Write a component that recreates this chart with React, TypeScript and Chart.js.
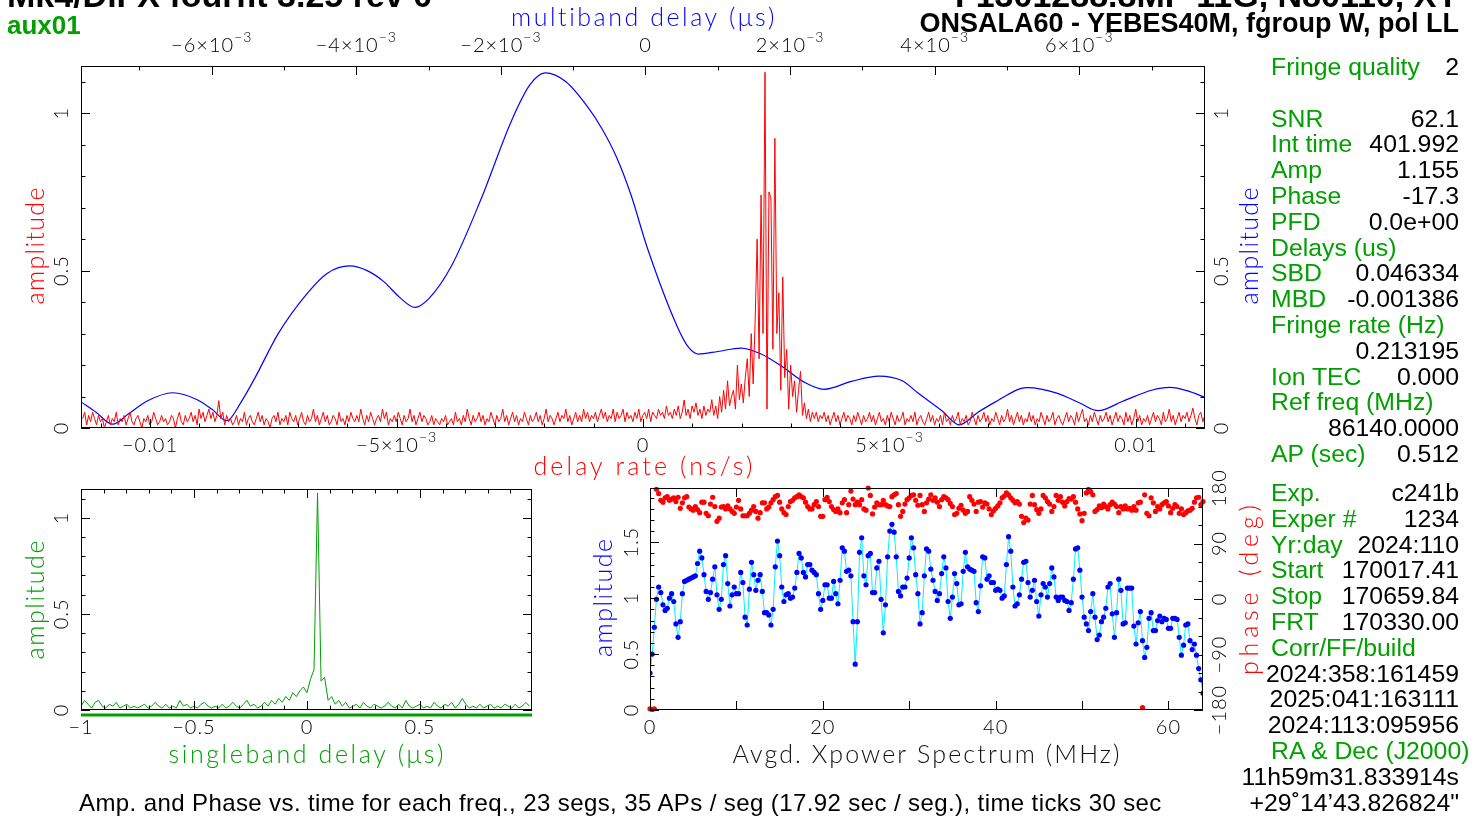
import React, { useEffect, useRef } from "react";
import { Chart, registerables } from "chart.js";
Chart.register(...registerables);

// ------------------------------------------------------------------ data
// delay-rate spectrum (red, main panel); x grid = RATE_START + i*RATE_STEP (ns/s)
const RATE_START = -0.011365;
const RATE_STEP = 0.00004;
const RATE_AMP = [
  0.03,0.05,0.01,0.04,0.02,0.05,0.03,0.01,0.04,0.02,0.03,0.00,0.02,0.04,0.01,0.03,0.02,0.05,0.01,0.03,
  0.02,0.04,0.01,0.03,0.05,0.02,0.01,0.03,0.04,0.02,0.00,0.03,0.02,0.04,0.01,0.02,0.05,0.03,0.01,0.02,
  0.04,0.02,0.03,0.01,0.02,0.04,0.03,0.00,0.03,0.05,0.02,0.01,0.04,0.02,0.03,0.05,0.02,0.04,0.01,0.06,
  0.03,0.05,0.02,0.04,0.06,0.03,0.05,0.02,0.04,0.087,0.03,0.05,0.01,0.04,0.02,0.03,0.01,0.02,0.04,0.01,
  0.03,0.02,0.05,0.01,0.03,0.04,0.02,0.01,0.03,0.05,0.02,0.04,0.01,0.03,0.02,0.00,0.03,0.04,0.02,0.05,
  0.01,0.03,0.02,0.04,0.01,0.05,0.03,0.02,0.04,0.01,0.03,0.05,0.02,0.01,0.04,0.02,0.03,0.06,0.02,0.04,
  0.01,0.03,0.05,0.02,0.04,0.01,0.02,0.04,0.03,0.01,0.05,0.02,0.03,0.01,0.04,0.02,0.05,0.03,0.02,0.04,
  0.02,0.06,0.03,0.01,0.04,0.02,0.05,0.03,0.01,0.03,0.04,0.02,0.06,0.03,0.05,0.01,0.03,0.02,0.04,0.02,
  0.05,0.03,0.01,0.04,0.02,0.03,0.06,0.02,0.04,0.01,0.03,0.05,0.02,0.04,0.03,0.01,0.02,0.04,0.01,0.03,
  0.02,0.01,0.03,0.02,0.04,0.01,0.02,0.03,0.01,0.05,0.02,0.03,0.01,0.04,0.02,0.06,0.03,0.01,0.04,0.02,
  0.03,0.05,0.02,0.04,0.01,0.03,0.02,0.05,0.03,0.01,0.04,0.02,0.03,0.06,0.02,0.04,0.01,0.03,0.05,0.02,
  0.04,0.01,0.03,0.02,0.05,0.03,0.01,0.04,0.02,0.03,0.05,0.02,0.04,0.01,0.03,0.06,0.02,0.04,0.03,0.01,
  0.03,0.05,0.02,0.04,0.03,0.06,0.02,0.04,0.01,0.03,0.05,0.02,0.04,0.02,0.06,0.03,0.05,0.02,0.04,0.03,
  0.05,0.02,0.04,0.06,0.03,0.05,0.02,0.04,0.03,0.06,0.02,0.05,0.03,0.04,0.06,0.02,0.05,0.03,0.04,0.02,
  0.05,0.03,0.06,0.02,0.04,0.05,0.03,0.06,0.02,0.05,0.04,0.03,0.06,0.04,0.05,0.03,0.07,0.04,0.05,0.03,
  0.06,0.04,0.07,0.03,0.05,0.089,0.04,0.06,0.03,0.07,0.05,0.08,0.04,0.06,0.03,0.07,0.04,0.06,
  0.05,0.09,0.04,0.07,0.03,0.10,0.05,0.12,0.06,0.15,
  0.07,0.10,0.12,0.06,0.20,0.09,0.14,0.08,0.16,0.22,
  0.10,0.30,0.14,0.34,0.60,0.22,0.74,0.30,1.13,0.06,
  0.75,0.73,0.25,0.92,0.30,0.43,0.12,0.48,0.16,0.25,
  0.06,0.20,0.10,0.15,0.05,0.12,0.18,0.04,0.08,0.03,
  0.06,0.02,0.05,
  0.03,0.05,0.02,0.04,0.03,0.05,0.02,0.04,0.01,
  0.03,0.05,0.02,0.04,0.01,0.03,0.05,0.02,0.04,0.03,0.01,0.04,0.02,0.05,0.03,0.01,0.04,0.02,0.03,0.05,
  0.02,0.04,0.01,0.03,0.05,0.02,0.03,0.01,0.04,0.02,0.05,0.03,0.01,0.04,0.02,0.03,0.05,0.01,0.03,0.02,
  0.04,0.02,0.05,0.01,0.03,0.04,0.02,0.01,0.03,0.05,0.02,0.04,0.01,0.03,0.02,0.04,0.01,0.05,0.02,0.03,
  0.01,0.04,0.02,0.03,0.05,0.01,0.03,0.02,0.04,0.01,0.02,0.05,0.03,0.01,0.04,0.02,0.03,0.05,0.02,0.04,
  0.01,0.03,0.02,0.05,0.03,0.01,0.04,0.02,0.03,0.06,0.02,0.04,0.01,0.03,0.05,0.02,0.04,0.01,0.03,0.02,
  0.05,0.02,0.04,0.01,0.03,0.02,0.05,0.03,0.01,0.04,0.02,0.03,0.05,0.01,0.03,0.04,0.02,0.01,0.03,0.05,
  0.02,0.04,0.03,0.01,0.05,0.02,0.04,0.06,0.02,0.03,0.01,0.04,0.02,0.05,0.03,0.01,0.04,0.02,0.03,0.05,
  0.02,0.04,0.01,0.03,0.05,0.02,0.04,0.03,0.01,0.05,0.02,0.04,0.01,0.03,0.06,0.02,0.04,0.01,0.03,0.02,
  0.04,0.01,0.03,0.05,0.02,0.04,0.03,0.01,0.05,0.02,0.03,0.06,0.02,0.04,0.01,0.03,0.05,0.02,0.04,0.03,
  0.05,0.02,0.04,0.063,0.03,0.01,0.04,0.05,0.02,0.04,
];

// multiband delay function (blue, main panel, top axis in µs)
const MBD_DELAY = [
  -0.007808,-0.0076,-0.00737,-0.00715,-0.0069,-0.00654,-0.0062,-0.006,-0.00579,-0.0056,
  -0.0054,-0.00508,-0.00467,-0.0044,-0.00409,-0.00385,-0.00362,-0.0034,-0.00319,-0.003,
  -0.00269,-0.00228,-0.00185,-0.0016,-0.001386,-0.0011,-0.0008,-0.0006,-0.0004,-0.0002,
  0.00002,0.00044,0.0006,0.00073,0.001,0.00132,0.0016,0.00189,0.0022,0.00247,
  0.00285,0.00323,0.00355,0.00377,0.0041,0.00434,0.0046,0.00481,0.00528,0.0057,
  0.006,0.00626,0.0066,0.007,0.00725,0.0075,0.007739,
];
const MBD_AMP = [
  0.083,0.05,0.012,0.045,0.085,0.112,0.09,0.06,0.023,0.08,
  0.16,0.3,0.43,0.492,0.515,0.5,0.465,0.415,0.383,0.41,
  0.512,0.724,0.978,1.09,1.128,1.10,1.02,0.95,0.86,0.74,
  0.576,0.322,0.255,0.235,0.243,0.254,0.235,0.195,0.145,0.123,
  0.148,0.165,0.15,0.111,0.055,0.01,0.05,0.079,0.128,0.11,
  0.08,0.055,0.085,0.12,0.129,0.118,0.097,
];

// singleband delay function (green); x grid = SBD_START + i*SBD_STEP (µs)
const SBD_START = -1;
const SBD_STEP = 0.015625;
const SBD_AMP = [
  0.02,0.05,0.03,0.01,0.04,0.05,0.02,0.01,0.03,0.02,0.04,0.01,0.02,0.03,0.01,0.02,
  0.01,0.02,0.03,0.01,0.02,0.04,0.02,0.01,0.03,0.01,0.02,0.01,0.05,0.02,0.03,0.01,
  0.02,0.01,0.03,0.04,0.02,0.01,0.02,0.01,0.03,0.01,0.02,0.04,0.02,0.01,0.03,0.05,
  0.02,0.03,0.01,0.02,0.04,0.02,0.05,0.03,0.06,0.04,0.07,0.05,0.09,0.07,0.10,0.12,
  0.09,0.16,0.21,1.13,0.15,0.17,0.05,0.07,
  0.03,0.05,0.02,0.04,0.01,0.02,0.03,0.01,0.04,0.02,0.01,0.03,0.02,0.01,0.02,0.04,
  0.02,0.01,0.03,0.01,0.05,0.02,0.01,0.02,0.03,0.01,0.02,0.01,0.04,0.02,0.01,0.03,
  0.02,0.04,0.01,0.03,0.06,0.03,0.01,0.02,0.01,0.03,0.01,0.02,0.03,0.01,0.02,0.01,
  0.03,0.02,0.01,0.03,0.01,0.02,0.04,0.02,
];
const SBD_WINDOW = [-1, 0.996];

// averaged cross-power spectrum; x grid = i*FREQ_STEP (MHz)
const FREQ_STEP = 0.25;
const XP_AMP = [
  0.33,0.50,0.74,0.99,1.10,1.05,0.94,0.89,0.91,1.00,
  1.04,0.97,0.77,0.65,0.79,1.04,1.15,1.16,1.17,1.18,
  1.19,1.20,1.31,1.42,1.36,1.21,1.06,0.99,1.05,1.17,
  1.28,1.03,0.90,0.99,1.30,1.38,1.13,0.93,1.03,1.10,
  1.04,1.04,1.23,1.14,0.83,0.76,1.08,1.32,1.21,1.07,
  1.16,1.21,1.06,0.87,0.87,0.85,0.76,0.90,1.28,1.51,
  1.38,1.10,0.97,1.03,1.04,1.00,1.01,1.09,1.23,1.40,
  1.36,1.23,1.19,1.30,1.30,1.25,1.23,1.21,1.04,0.90,
  0.98,1.12,1.12,1.00,1.00,1.15,1.04,0.95,1.16,1.45,
  1.42,1.24,1.25,1.20,0.79,0.41,0.79,1.41,1.54,1.20,
  1.12,1.38,1.40,1.05,1.05,1.27,1.33,0.99,0.69,0.94,
  1.37,1.60,1.66,1.59,1.37,1.06,1.02,1.10,1.10,1.18,
  1.36,1.54,1.45,1.21,1.04,0.77,0.87,1.20,1.44,1.42,
  1.26,1.16,1.06,0.98,1.04,1.22,1.37,1.27,0.97,0.82,
  1.01,1.22,1.13,0.94,0.95,1.24,1.41,1.28,1.26,1.25,
  1.24,0.96,0.88,1.11,1.37,1.36,1.17,1.20,1.14,1.14,
  1.07,1.08,1.07,1.00,1.02,1.30,1.55,1.42,1.10,0.93,
  0.95,1.03,1.17,1.32,1.33,1.14,1.01,1.07,1.16,0.97,
  0.84,1.03,1.13,1.10,1.01,1.13,1.27,1.19,1.01,0.98,
  1.01,1.01,0.98,0.97,0.89,0.96,1.17,1.44,1.45,1.25,
  1.01,0.83,0.77,0.71,0.88,1.04,0.83,0.63,0.67,0.79,
  0.83,0.91,1.10,1.13,0.86,0.65,0.87,1.17,1.07,0.77,
  0.78,1.09,1.09,1.09,0.75,0.59,0.78,0.88,0.62,0.47,
  0.56,0.82,0.87,0.71,0.71,0.80,0.84,0.79,0.82,0.81,
  0.73,0.73,0.82,0.82,0.81,0.65,0.49,0.58,0.76,0.77,
  0.62,0.54,0.59,0.49,0.37,0.27,0.15,
];
const XP_PHASE = [
  -178,-179,-178,178,171,160,157,164,166,160,
  162,164,158,165,147,156,164,166,149,146,
  144,150,145,140,157,157,139,135,154,165,
  150,126,131,149,150,146,151,146,142,139,
  149,160,146,135,135,135,139,144,150,142,
  131,140,156,156,146,149,156,161,166,168,
  157,146,140,137,150,158,160,164,166,169,
  166,164,157,150,146,146,153,158,150,134,
  134,161,165,158,150,145,142,146,140,156,
  161,140,153,175,162,153,157,153,161,146,
  144,180,168,138,149,156,153,153,160,153,
  151,150,166,169,171,153,134,142,154,161,
  164,168,169,160,152,168,153,142,156,162,
  169,160,164,157,150,161,166,164,161,155,
  150,137,139,147,152,144,139,142,166,160,
  154,142,157,158,149,156,154,146,137,143,
  147,151,156,164,167,172,169,164,160,156,
  158,154,134,124,131,128,154,168,153,145,
  139,146,168,164,158,154,142,150,168,160,
  166,157,151,158,163,162,166,157,146,138,
  127,139,172,178,174,169,142,145,151,148,
  154,150,146,153,157,154,150,140,150,146,
  151,146,147,144,150,144,156,157,-176,169,
  139,135,164,156,142,150,146,153,156,158,
  151,140,147,153,150,139,146,137,140,143,
  144,147,157,164,165,153,158,
];

// tick labels: value, text, optional exponent
const RATE_TICKS = [
  { v: -0.01, t: "\u22120.01" }, { v: -0.005, t: "\u22125\u00d710", e: "\u22123" },
  { v: 0, t: "0" }, { v: 0.005, t: "5\u00d710", e: "\u22123" }, { v: 0.01, t: "0.01" },
];
const MBD_TICKS = [
  { v: -0.006, t: "\u22126\u00d710", e: "\u22123" }, { v: -0.004, t: "\u22124\u00d710", e: "\u22123" },
  { v: -0.002, t: "\u22122\u00d710", e: "\u22123" }, { v: 0, t: "0" },
  { v: 0.002, t: "2\u00d710", e: "\u22123" }, { v: 0.004, t: "4\u00d710", e: "\u22123" },
  { v: 0.006, t: "6\u00d710", e: "\u22123" },
];
const AMP_TICKS = [{ v: 0, t: "0" }, { v: 0.5, t: "0.5" }, { v: 1, t: "1" }];
const SBD_TICKS = [{ v: -1, t: "\u22121" }, { v: -0.5, t: "\u22120.5" }, { v: 0, t: "0" }, { v: 0.5, t: "0.5" }];
const FREQ_TICKS = [{ v: 0, t: "0" }, { v: 20, t: "20" }, { v: 40, t: "40" }, { v: 60, t: "60" }];
const XP_AMP_TICKS = [{ v: 0, t: "0" }, { v: 0.5, t: "0.5" }, { v: 1, t: "1" }, { v: 1.5, t: "1.5" }];
const PHASE_TICKS = [
  { v: -180, t: "\u2212180" }, { v: -90, t: "\u221290" }, { v: 0, t: "0" }, { v: 90, t: "90" }, { v: 180, t: "180" },
];

// text panel
const TITLE_LEFT = "Mk4/DiFX fourfit 3.25 rev 0";
const TITLE_RIGHT = "F1301288.8MP 11G, N80110, XY";
const SUBTITLE_LEFT = "aux01";
const SUBTITLE_RIGHT = "ONSALA60 - YEBES40M, fgroup W, pol LL";
const FOOTER = "Amp. and Phase vs. time for each freq., 23 segs, 35 APs / seg (17.92 sec / seg.), time ticks 30 sec";
const STATS_TOP: [string, string][] = [
  ["Fringe quality", "2"], ["", ""], ["SNR", "62.1"], ["Int time", "401.992"], ["Amp", "1.155"],
  ["Phase", "-17.3"], ["PFD", "0.0e+00"], ["Delays (us)", ""], ["SBD", "0.046334"], ["MBD", "-0.001386"],
  ["Fringe rate (Hz)", ""], ["", "0.213195"], ["Ion TEC", "0.000"], ["Ref freq (MHz)", ""],
  ["", "86140.0000"], ["AP (sec)", "0.512"],
];
const STATS_BOTTOM: [string, string][] = [
  ["Exp.", "c241b"], ["Exper #", "1234"], ["Yr:day", "2024:110"], ["Start", "170017.41"],
  ["Stop", "170659.84"], ["FRT", "170330.00"], ["Corr/FF/build", ""], ["", "2024:358:161459"],
  ["", "2025:041:163111"], ["", "2024:113:095956"], ["RA & Dec (J2000)", ""], ["", "11h59m31.833914s"],
  ["", "+29\u02da14\u201943.826824\""],
];

// ------------------------------------------------------------------ drawing helpers
const W = 1479;
const H = 816;
const RED = "#ff0000";
const BLUE = "#0000ff";
const GREEN = "#00a000";
const PG_FAMILY = 'Lato, "DejaVu Sans", sans-serif';
const TICK_FONT = `300 20px ${PG_FAMILY}`;
const SUP_FONT = `300 14px ${PG_FAMILY}`;
const TITLE_FONT = `300 25px ${PG_FAMILY}`;

type Lab = { v: number; t: string; e?: string };
type AxisSpec = { scale: string; side: string; major: number; minor: number; labels?: Lab[]; pos?: number };
type TitleSpec = { text: string; x: number; y: number; width: number; color: string; rotate?: boolean };

function drawTickLabel(ctx: any, lab: Lab, cx: number, cy: number, rotate: boolean) {
  ctx.save();
  ctx.translate(cx, cy);
  if (rotate) ctx.rotate(-Math.PI / 2);
  ctx.letterSpacing = "1px";
  ctx.font = TICK_FONT;
  const w1 = ctx.measureText(lab.t).width;
  let w2 = 0;
  if (lab.e) {
    ctx.font = SUP_FONT;
    w2 = ctx.measureText(lab.e).width;
  }
  const x0 = -(w1 + w2) / 2;
  ctx.textAlign = "left";
  ctx.textBaseline = "middle";
  ctx.fillStyle = "#000";
  ctx.font = TICK_FONT;
  ctx.fillText(lab.t, x0, 0);
  if (lab.e) {
    ctx.font = SUP_FONT;
    ctx.fillText(lab.e, x0 + w1, -9);
  }
  ctx.restore();
}

function drawTitle(ctx: any, t: TitleSpec) {
  ctx.save();
  ctx.font = TITLE_FONT;
  ctx.letterSpacing = "0px";
  const w = ctx.measureText(t.text).width;
  const ls = (t.width - w) / Math.max(1, t.text.length - 1);
  ctx.letterSpacing = `${ls}px`;
  ctx.translate(t.x, t.y);
  if (t.rotate) ctx.rotate(-Math.PI / 2);
  ctx.textAlign = "left";
  ctx.textBaseline = "middle";
  ctx.fillStyle = t.color;
  ctx.fillText(t.text, -t.width / 2, 0);
  ctx.restore();
}

function makePg(axes: AxisSpec[], titles: TitleSpec[], extra?: (chart: any) => void) {
  return {
    id: "pg",
    afterDatasetsDraw(chart: any) {
      const ctx = chart.ctx;
      const a = chart.chartArea;
      ctx.save();
      ctx.strokeStyle = "#000";
      ctx.lineWidth = 1;
      ctx.strokeRect(a.left + 0.5, a.top + 0.5, a.right - a.left - 1, a.bottom - a.top - 1);
      for (const ax of axes) {
        const sc = chart.scales[ax.scale];
        const n0 = Math.ceil(sc.min / ax.minor - 1e-6);
        const n1 = Math.floor(sc.max / ax.minor + 1e-6);
        for (let n = n0; n <= n1; n++) {
          const v = n * ax.minor;
          const r = v / ax.major;
          const len = Math.abs(r - Math.round(r)) < 1e-6 ? 9 : 4.5;
          const p = Math.round(sc.getPixelForValue(v)) + 0.5;
          ctx.beginPath();
          if (ax.side === "bottom") { ctx.moveTo(p, a.bottom); ctx.lineTo(p, a.bottom - len); }
          if (ax.side === "top") { ctx.moveTo(p, a.top); ctx.lineTo(p, a.top + len); }
          if (ax.side === "left") { ctx.moveTo(a.left, p); ctx.lineTo(a.left + len, p); }
          if (ax.side === "right") { ctx.moveTo(a.right, p); ctx.lineTo(a.right - len, p); }
          ctx.stroke();
        }
        if (ax.labels && ax.pos !== undefined) {
          for (const lab of ax.labels) {
            const p = sc.getPixelForValue(lab.v);
            if (ax.side === "bottom" || ax.side === "top") drawTickLabel(ctx, lab, p, ax.pos, false);
            else drawTickLabel(ctx, lab, ax.pos, p, true);
          }
        }
      }
      for (const t of titles) drawTitle(ctx, t);
      if (extra) extra(chart);
      ctx.restore();
    },
  };
}

const baseOptions = (padding: any, scales: any) => ({
  responsive: false,
  animation: false as const,
  devicePixelRatio: 1,
  events: [] as any[],
  layout: { padding },
  plugins: { legend: { display: false }, tooltip: { enabled: false } },
  scales,
});

// ------------------------------------------------------------------ chart configs
function mainConfig(): any {
  const rate = RATE_AMP.map((y, i) => ({ x: RATE_START + i * RATE_STEP, y }));
  const mbd = MBD_DELAY.map((x, i) => ({ x, y: MBD_AMP[i] }));
  return {
    type: "line",
    data: {
      datasets: [
        { data: rate, xAxisID: "x", yAxisID: "y", borderColor: RED, borderWidth: 1, pointRadius: 0, tension: 0 },
        { data: mbd, xAxisID: "x2", yAxisID: "y", borderColor: BLUE, borderWidth: 1.2, pointRadius: 0, cubicInterpolationMode: "monotone" },
      ],
    },
    options: baseOptions(
      { left: 81, top: 66, right: W - 1205, bottom: H - 428 },
      {
        x: { type: "linear", min: -0.0114, max: 0.0114, display: false },
        x2: { type: "linear", position: "top", min: -0.007808, max: 0.007739, display: false },
        y: { type: "linear", min: 0, max: 1.15, display: false },
      }
    ),
    plugins: [
      makePg(
        [
          { scale: "x", side: "bottom", major: 0.005, minor: 0.001, labels: RATE_TICKS, pos: 446 },
          { scale: "x2", side: "top", major: 0.002, minor: 0.001, labels: MBD_TICKS, pos: 46 },
          { scale: "y", side: "left", major: 0.5, minor: 0.1, labels: AMP_TICKS, pos: 62 },
          { scale: "y", side: "right", major: 0.5, minor: 0.1, labels: AMP_TICKS, pos: 1222 },
        ],
        [
          { text: "multiband delay (\u03bcs)", x: 643, y: 18, width: 264, color: BLUE },
          { text: "delay rate (ns/s)", x: 643, y: 467, width: 219, color: RED },
          { text: "amplitude", x: 36, y: 246, width: 117, color: RED, rotate: true },
          { text: "amplitude", x: 1250, y: 246, width: 117, color: BLUE, rotate: true },
        ]
      ),
    ],
  };
}

function sbdConfig(): any {
  const sbd = SBD_AMP.map((y, i) => ({ x: SBD_START + i * SBD_STEP, y }));
  return {
    type: "line",
    data: {
      datasets: [{ data: sbd, borderColor: GREEN, borderWidth: 1, pointRadius: 0, tension: 0 }],
    },
    options: baseOptions(
      { left: 81, top: 489, right: W - 532, bottom: H - 710 },
      {
        x: { type: "linear", min: -1, max: 0.996, display: false },
        y: { type: "linear", min: 0, max: 1.15, display: false },
      }
    ),
    plugins: [
      makePg(
        [
          { scale: "x", side: "bottom", major: 0.5, minor: 0.1, labels: SBD_TICKS, pos: 728 },
          { scale: "x", side: "top", major: 0.5, minor: 0.1 },
          { scale: "y", side: "left", major: 0.5, minor: 0.1, labels: AMP_TICKS, pos: 62 },
          { scale: "y", side: "right", major: 0.5, minor: 0.1 },
        ],
        [
          { text: "amplitude", x: 36, y: 600, width: 119, color: GREEN, rotate: true },
          { text: "singleband delay (\u03bcs)", x: 306, y: 755, width: 275, color: GREEN },
        ],
        (chart: any) => {
          const ctx = chart.ctx;
          const sc = chart.scales.x;
          ctx.strokeStyle = GREEN;
          ctx.lineWidth = 3;
          ctx.beginPath();
          ctx.moveTo(sc.getPixelForValue(SBD_WINDOW[0]), chart.chartArea.bottom + 5);
          ctx.lineTo(sc.getPixelForValue(SBD_WINDOW[1]), chart.chartArea.bottom + 5);
          ctx.stroke();
        }
      ),
    ],
  };
}

function specConfig(): any {
  const amp = XP_AMP.map((y, i) => ({ x: i * FREQ_STEP, y }));
  const ph = XP_PHASE.map((y, i) => ({ x: i * FREQ_STEP, y }));
  return {
    type: "line",
    data: {
      datasets: [
        {
          data: amp, yAxisID: "y", borderColor: "#00f0ff", borderWidth: 1, tension: 0,
          pointRadius: 2.6, pointBackgroundColor: BLUE, pointBorderColor: BLUE, pointBorderWidth: 0,
        },
        {
          data: ph, yAxisID: "y2", showLine: false, clip: false,
          pointRadius: 2.6, pointBackgroundColor: RED, pointBorderColor: RED, pointBorderWidth: 0,
        },
      ],
    },
    options: baseOptions(
      { left: 650, top: 488, right: W - 1203, bottom: H - 710 },
      {
        x: { type: "linear", min: 0, max: 64, display: false },
        y: { type: "linear", min: 0, max: 1.985, display: false },
        y2: { type: "linear", position: "right", min: -180, max: 180, display: false },
      }
    ),
    plugins: [
      makePg(
        [
          { scale: "x", side: "bottom", major: 10, minor: 10, labels: FREQ_TICKS, pos: 728 },
          { scale: "x", side: "top", major: 10, minor: 10 },
          { scale: "y", side: "left", major: 0.5, minor: 0.1, labels: XP_AMP_TICKS, pos: 632 },
          { scale: "y2", side: "right", major: 90, minor: 30, labels: PHASE_TICKS, pos: 1220 },
        ],
        [
          { text: "amplitude", x: 604, y: 598, width: 118, color: BLUE, rotate: true },
          { text: "phase (deg)", x: 1250, y: 590, width: 170, color: RED, rotate: true },
          { text: "Avgd. Xpower Spectrum (MHz)", x: 926, y: 755, width: 387, color: "#111" },
        ]
      ),
    ],
  };
}

// ------------------------------------------------------------------ component
const canvasStyle: React.CSSProperties = { position: "absolute", left: 0, top: 0 };
const SANS = '"Liberation Sans", Arial, Helvetica, sans-serif';

function StatRows({ rows, start }: { rows: [string, string][]; start: number }) {
  const step = 25.8;
  return (
    <>
      {rows.map(([lab, val], k) => {
        const top = start + k * step - 13;
        return (
          <React.Fragment key={k}>
            {lab && (
              <div style={{ position: "absolute", left: 1271, top, height: 26, lineHeight: "26px", fontSize: 24.8, color: GREEN, whiteSpace: "nowrap" }}>
                {lab}
              </div>
            )}
            {val && (
              <div style={{ position: "absolute", right: W - 1459, top, height: 26, lineHeight: "26px", fontSize: 24.8, color: "#000", whiteSpace: "nowrap", textAlign: "right" }}>
                {val}
              </div>
            )}
          </React.Fragment>
        );
      })}
    </>
  );
}

export default function App() {
  const mainRef = useRef<HTMLCanvasElement>(null);
  const sbdRef = useRef<HTMLCanvasElement>(null);
  const specRef = useRef<HTMLCanvasElement>(null);

  useEffect(() => {
    const charts = [
      new Chart(mainRef.current as HTMLCanvasElement, mainConfig()),
      new Chart(sbdRef.current as HTMLCanvasElement, sbdConfig()),
      new Chart(specRef.current as HTMLCanvasElement, specConfig()),
    ];
    return () => charts.forEach((c) => c.destroy());
  }, []);

  return (
    <div style={{ position: "fixed", left: 0, top: 0, width: W, height: H, background: "#fff", overflow: "hidden", fontFamily: SANS }}>
      <canvas ref={mainRef} width={W} height={H} style={canvasStyle} />
      <canvas ref={sbdRef} width={W} height={H} style={canvasStyle} />
      <canvas ref={specRef} width={W} height={H} style={canvasStyle} />

      <div style={{ position: "absolute", left: 7, top: -22, lineHeight: "34px", fontSize: 34, fontWeight: "bold", whiteSpace: "nowrap" }}>
        {TITLE_LEFT}
      </div>
      <div style={{ position: "absolute", right: W - 1459, top: -22, lineHeight: "34px", fontSize: 34, fontWeight: "bold", whiteSpace: "nowrap" }}>
        {TITLE_RIGHT}
      </div>
      <div style={{ position: "absolute", left: 7, top: 12, lineHeight: "26px", fontSize: 26, fontWeight: "bold", color: GREEN }}>
        {SUBTITLE_LEFT}
      </div>
      <div style={{ position: "absolute", right: W - 1459, top: 10, lineHeight: "27px", fontSize: 27, fontWeight: "bold", whiteSpace: "nowrap" }}>
        {SUBTITLE_RIGHT}
      </div>

      <StatRows rows={STATS_TOP} start={67} />
      <StatRows rows={STATS_BOTTOM} start={493} />

      <div style={{ position: "absolute", left: 79, top: 791, lineHeight: "24px", fontSize: 24, letterSpacing: "0.4px", whiteSpace: "nowrap" }}>
        {FOOTER}
      </div>
    </div>
  );
}
